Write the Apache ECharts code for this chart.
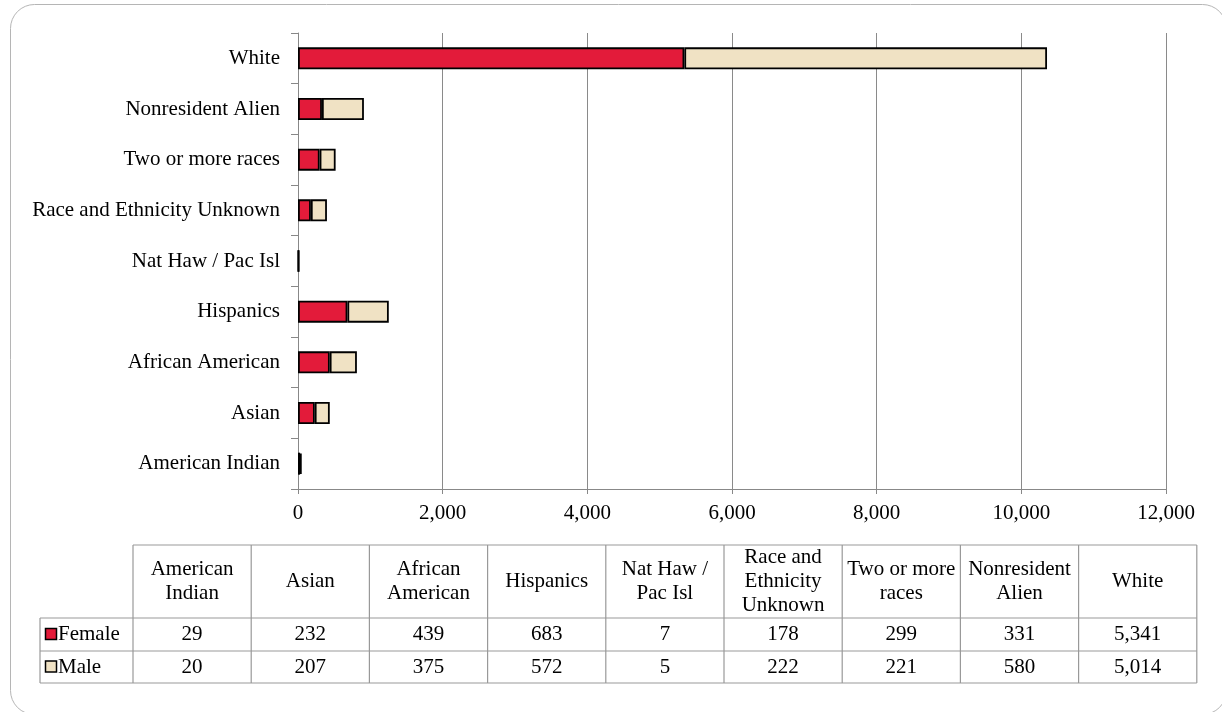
<!DOCTYPE html>
<html><head><meta charset="utf-8">
<script src="https://cdn.jsdelivr.net/npm/echarts@6/dist/echarts.min.js"></script>
<style>html,body{margin:0;padding:0;background:#fff}#c{width:1222px;height:712px}</style>
</head><body><div id="c"></div>
<script>
const categories = ["American Indian","Asian","African American","Hispanics","Nat Haw / Pac Isl","Race and Ethnicity Unknown","Two or more races","Nonresident Alien","White"];
const tableHeaders = ["American\nIndian","Asian","African\nAmerican","Hispanics","Nat Haw /\nPac Isl","Race and\nEthnicity\nUnknown","Two or more\nraces","Nonresident\nAlien","White"];
const female = [29,232,439,683,7,178,299,331,5341];
const male = [20,207,375,572,5,222,221,580,5014];
const seriesNames = ["Female","Male"];
const colors = ["#E31B3A","#F0E2C4"];

const FONT = "Liberation Serif";
const FS = 21;
const chart = echarts.init(document.getElementById('c'));

// table geometry
const tLeft = 133, colW = 118.2, legLeft = 40;
const yHeadTop = 545, yHeadBot = 618, yR1 = 651, yR2 = 683;
const tRight = tLeft + colW * categories.length;
const fmt = v => v.toLocaleString('en-US');
const lineStyle = {stroke:'#999', lineWidth:1.2};
const g = [];
g.push({type:'rect', shape:{x:10.5,y:4.5,width:1216,height:710,r:24}, style:{fill:null, stroke:'#b5b5b5', lineWidth:1}, silent:true});
[[yHeadTop,tLeft],[yHeadBot,legLeft],[yR1,legLeft],[yR2,legLeft]].forEach(([y,x0])=>{
  g.push({type:'line', shape:{x1:x0,y1:y,x2:tRight,y2:y}, style:lineStyle});
});
g.push({type:'line', shape:{x1:legLeft,y1:yHeadBot,x2:legLeft,y2:yR2}, style:lineStyle});
for(let i=0;i<=categories.length;i++){
  const x = tLeft + colW*i;
  g.push({type:'line', shape:{x1:x,y1:yHeadTop,x2:x,y2:yR2}, style:lineStyle});
}
tableHeaders.forEach((h,i)=>{
  g.push({type:'text', x: tLeft+colW*(i+0.5), y:(yHeadTop+yHeadBot)/2,
    style:{text:h, fontFamily:FONT, fontSize:FS, fill:'#000', align:'center', verticalAlign:'middle', lineHeight:24}});
});
[female,male].forEach((arr,r)=>{
  const yc = r===0 ? (yHeadBot+yR1)/2 : (yR1+yR2)/2;
  g.push({type:'rect', shape:{x:45.5,y:yc-6,width:11,height:11}, style:{fill:colors[r], stroke:'#000', lineWidth:1.5}});
  g.push({type:'text', x:58, y:yc, style:{text:seriesNames[r], fontFamily:FONT, fontSize:FS, fill:'#000', align:'left', verticalAlign:'middle'}});
  arr.forEach((v,i)=>{
    g.push({type:'text', x: tLeft+colW*(i+0.5), y:yc, style:{text:fmt(v), fontFamily:FONT, fontSize:FS, fill:'#000', align:'center', verticalAlign:'middle'}});
  });
});

chart.setOption({
  animation:false,
  grid:{left:298, right:56, top:33, height:456, containLabel:false},
  xAxis:{type:'value', min:0, max:12000, interval:2000,
    axisLine:{show:true, lineStyle:{color:'#888', width:1}},
    axisTick:{show:true, length:5, lineStyle:{color:'#888'}},
    splitLine:{show:true, lineStyle:{color:'#8a8a8a', width:1}},
    axisLabel:{fontFamily:FONT, fontSize:FS, color:'#000', margin:14, formatter:v=>fmt(v)}},
  yAxis:{type:'category', data:categories,
    axisLine:{show:true, lineStyle:{color:'#888', width:1}},
    axisTick:{show:true, length:7, inside:false, lineStyle:{color:'#888'}},
    axisLabel:{fontFamily:FONT, fontSize:FS, color:'#000', margin:18}},
  series:[
    {name:seriesNames[0], type:'bar', stack:'s', data:female, barWidth:22,
      itemStyle:{color:colors[0], borderColor:'#000', borderWidth:1.8}},
    {name:seriesNames[1], type:'bar', stack:'s', data:male, barWidth:22,
      itemStyle:{color:colors[1], borderColor:'#000', borderWidth:1.8}}
  ],
  graphic:g
});
</script></body></html>
